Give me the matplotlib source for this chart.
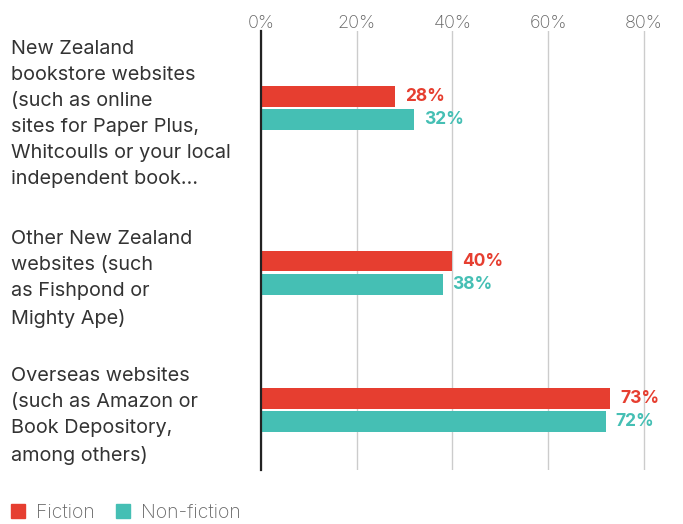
import matplotlib
matplotlib.use("Agg")
import matplotlib.pyplot as plt
from matplotlib.patches import Patch

categories = [
    "New Zealand\nbookstore websites\n(such as online\nsites for Paper Plus,\nWhitcoulls or your local\nindependent book…",
    "Other New Zealand\nwebsites (such\nas Fishpond or\nMighty Ape)",
    "Overseas websites\n(such as Amazon or\nBook Depository,\namong others)",
]
fiction = [28, 40, 73]
nonfiction = [32, 38, 72]
series_names = ["Fiction", "Non-fiction"]
xticks = [0, 20, 40, 60, 80]

RED = "#E63E30"
TEAL = "#45BFB4"
FONT = "Inter"

W, H = 683, 524
fig = plt.figure(figsize=(W / 100, H / 100), dpi=100)
top_px, bot_px, left_px = 31, 470, 261
px_per_pct = 4.785
xmax = 88
ax = fig.add_axes([left_px / W, 1 - bot_px / H, xmax * px_per_pct / W, (bot_px - top_px) / H])

# layout: group centres in pixel units (y axis expressed in pixels from top)
centers = [107.7, 272.7, 409.7]
off = 11.6
bh = 20.8
ax.set_ylim(bot_px, top_px)
ax.set_xlim(0, xmax)

yf = [c - off for c in centers]
yn = [c + off for c in centers]
ax.barh(yf, fiction, height=bh, color=RED, zorder=3)
ax.barh(yn, nonfiction, height=bh, color=TEAL, zorder=3)

for y, v in zip(yf, fiction):
    ax.annotate(f"{v}%", (v, y), xytext=(7, 0), textcoords="offset points",
                ha="left", va="center", color=RED, fontsize=12.5, fontweight="bold", family=FONT)
for y, v in zip(yn, nonfiction):
    ax.annotate(f"{v}%", (v, y), xytext=(7, 0), textcoords="offset points",
                ha="left", va="center", color=TEAL, fontsize=12.5, fontweight="bold", family=FONT)

ax.set_xticks(xticks)
ax.set_xticklabels([f"{t}%" for t in xticks], family=FONT, fontsize=13, color="#666666", fontweight="light")
ax.xaxis.tick_top()
ax.tick_params(axis="x", length=0, pad=-1)
ax.grid(axis="x", color="#CCCCCC", linewidth=1, zorder=0)

ax.set_yticks(centers)
ax.set_yticklabels(categories, family=FONT, fontsize=14.3, color="#333333", ha="left", linespacing=1.57)
ax.tick_params(axis="y", length=0, pad=(left_px - 11) * 0.72)

for s in ["top", "right", "bottom"]:
    ax.spines[s].set_visible(False)
ax.spines["left"].set_color("#222222")
ax.spines["left"].set_linewidth(1.6)
ax.spines["left"].set_zorder(4)

handles = [Patch(color=RED, label=series_names[0]), Patch(color=TEAL, label=series_names[1])]
fig.legend(handles=handles, loc="lower left", bbox_to_anchor=(11 / W, 0.004), ncol=2, frameon=False,
           prop={"family": FONT, "size": 14, "weight": "light"}, labelcolor="#666666",
           handlelength=0.72, handleheight=0.72, handletextpad=0.55, columnspacing=1.1,
           borderpad=0.0, borderaxespad=0.0)

fig.savefig("out.png", dpi=100)
